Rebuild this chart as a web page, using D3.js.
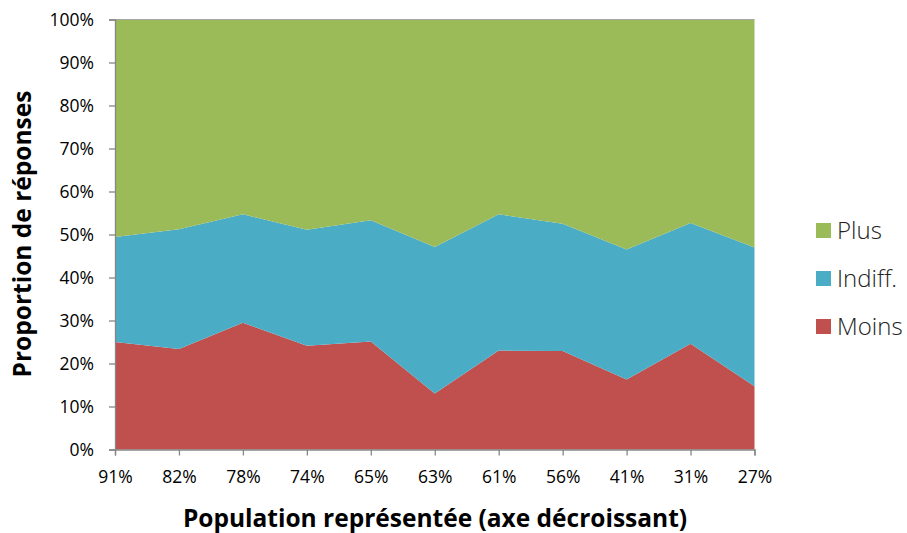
<!DOCTYPE html>
<html><head><meta charset="utf-8">
<script src="https://cdn.jsdelivr.net/npm/d3@7"></script>
<style>body{margin:0;background:#fff}svg{display:block}</style>
</head><body>
<svg id="c" width="907" height="533"></svg>
<script>
const categories = ["91%","82%","78%","74%","65%","63%","61%","56%","41%","31%","27%"];
const moins  = [25.0,23.4,29.5,24.1,25.1,13.0,23.0,22.9,16.3,24.6,14.7];
const indiff = [24.4,27.8,25.2,27.0,28.2,34.1,31.7,29.6,30.2,28.1,32.3];
const plus   = [50.6,48.8,45.3,48.9,46.7,52.9,45.3,47.5,53.5,47.3,53.0];
const seriesNames = ["Moins","Indiff.","Plus"];
const colors = ["#C0504D","#4BACC6","#9BBB59"];
const yTicks = [0,0.1,0.2,0.3,0.4,0.5,0.6,0.7,0.8,0.9,1];

const rows = categories.map((c,i)=>({cat:c,"Moins":moins[i],"Indiff.":indiff[i],"Plus":plus[i]}));
const stack = d3.stack().keys(seriesNames).offset(d3.stackOffsetExpand);
const layers = stack(rows);

const svg = d3.select("#c");
const L=115, R=754.5, T=19.5, B=449.5;
const x = d3.scalePoint().domain(categories).range([L,R]);
const y = d3.scaleLinear().domain([0,1]).range([B,T]);
const font = "Open Sans, sans-serif";

const area = d3.area().x(d=>x(d.data.cat)).y0(d=>y(d[0])).y1(d=>y(d[1]));
svg.append("g").selectAll("path").data(layers).join("path")
  .attr("d",area).attr("fill",(d,i)=>colors[i]);

svg.append("line").attr("x1",L).attr("x2",R).attr("y1",T).attr("y2",T)
  .attr("stroke","#A6A6A6").attr("stroke-width",1);

const yAxis = svg.append("g").attr("transform",`translate(${L},0)`)
  .call(d3.axisLeft(y).tickValues(yTicks).tickFormat(d3.format(".0%")).tickSizeOuter(0).tickSize(6).tickPadding(15));
const xAxis = svg.append("g").attr("transform",`translate(0,${B})`)
  .call(d3.axisBottom(x).tickSizeOuter(0).tickSize(6).tickPadding(15));
[yAxis,xAxis].forEach(a=>{
  a.selectAll("path,line").attr("stroke","#868686").attr("stroke-width",1.3);
  a.selectAll("text").attr("font-family",font).attr("font-size",17.5).attr("fill","#000");
});

svg.append("text").attr("transform","translate(31,234) rotate(-90)")
  .attr("text-anchor","middle").attr("font-family",font).attr("font-weight","bold")
  .attr("font-size",24.5).text("Proportion de réponses");
svg.append("text").attr("x",435).attr("y",527)
  .attr("text-anchor","middle").attr("font-family",font).attr("font-weight","bold")
  .attr("font-size",24.5).text("Population représentée (axe décroissant)");

const legendItems = ["Plus","Indiff.","Moins"];
const lg = svg.append("g");
legendItems.forEach((n,i)=>{
  const ci = seriesNames.indexOf(n);
  const g = lg.append("g").attr("transform",`translate(816,${223+i*48})`);
  g.append("rect").attr("width",15).attr("height",15).attr("fill",colors[ci]);
  g.append("text").attr("x",21).attr("y",16).attr("font-family",font).attr("font-weight",300)
    .attr("font-size",24).attr("fill","#222").text(n);
});
</script>
</body></html>
